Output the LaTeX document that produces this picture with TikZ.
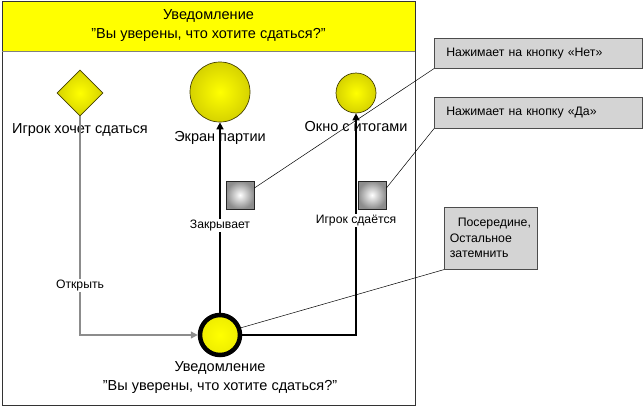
\documentclass[tikz,border=0pt]{standalone}
\usepackage{fontspec}
\setmainfont{Liberation Sans}
\usetikzlibrary{shapes.geometric,arrows.meta}
\definecolor{ylw}{HTML}{FFFF00}
\definecolor{olive}{HTML}{8A8000}
\definecolor{notegray}{HTML}{D4D4D4}
\begin{document}
\begin{tikzpicture}[x=1pt,y=-1pt,
  big/.style={font=\fontsize{14.5}{19}\selectfont, align=center},
  small/.style={font=\fontsize{12.2}{14}\selectfont},
  notefont/.style={font=\fontsize{12.3}{15.5}\selectfont},
  ball/.style={circle, draw=olive!50!black, line width=0.7pt, inner color=ylw, outer color=ylw!65!olive, inner sep=0pt},
  gate/.style={diamond, draw=olive!50!black, line width=0.7pt, inner color=ylw, outer color=ylw!65!olive, minimum width=46, minimum height=46, inner sep=0pt},
  sqbox/.style={rectangle, draw=black!85, line width=0.9pt, inner color=white, outer color=gray!90, minimum width=28, minimum height=28, inner sep=0pt},
  note/.style={rectangle, draw=black!70, line width=0.6pt, fill=notegray, notefont, inner sep=0pt, anchor=north west},
  barr/.style={draw=black, line width=1.4pt, -{Triangle[length=7pt,width=7pt]}},
  garr/.style={draw=gray!90, line width=1.4pt, -{Triangle[length=7pt,width=7pt]}},
  lead/.style={draw=black, line width=0.5pt},
  lblbg/.style={fill=white, inner sep=1pt, small}
]
\useasboundingbox (0,0) rectangle (643,407);
% frame and header
\node (frame) [draw=black!80, line width=0.8pt, minimum width=413, minimum height=404, inner sep=0pt] at (208.5,203) {};
\node (header) [draw=black!80, line width=0.8pt, fill=ylw, minimum width=413, minimum height=50, inner sep=0pt, big] at (208.5,26) {Уведомление\\"Вы уверены, что хотите сдаться?"};
\draw[gray, line width=1.5pt] (header.south west) -- (header.south east);
% nodes
\node (want) [gate] at (80,93) {};
\node (wantl) [big, anchor=north] at (80,120) {Игрок хочет сдаться};
\node (screen) [ball, minimum size=60] at (220,92) {};
\node (screenl) [big, anchor=north] at (220,128) {Экран партии};
\node (results) [ball, minimum size=40] at (356,93) {};
\node (resultsl) [big, anchor=north] at (356,118) {Окно с итогами};
\node (notif) [circle, draw=black, line width=4.5pt, inner color=ylw, outer color=ylw!85!olive, minimum size=40, inner sep=0pt] at (220,335) {};
\node (notifl) [big, anchor=north] at (220,358) {Уведомление\\"Вы уверены, что хотите сдаться?"};
\node (sq1) [sqbox] at (240,195) {};
\node (sq2) [sqbox] at (372,195) {};
% notes
\node (note1) [note, minimum width=208, minimum height=30, text width=200, align=left] at (434,38) {\hspace*{8pt}Нажимает на кнопку «Нет»};
\node (note2) [note, minimum width=208, minimum height=31, text width=200, align=left] at (434,97) {\hspace*{8pt}Нажимает на кнопку «Да»};
\node (note3) [note, minimum width=93, minimum height=62, text width=90, align=left] at (444,207) {\hspace*{12pt}Посередине,\\\hspace*{4pt}Остальное\\\hspace*{4pt}затемнить};
% connectors
\draw[garr] (want.south) |- (notif.west) node[pos=0.386, lblbg] {Открыть};
\draw[barr] (notif.north) -- (screen.south) node[pos=0.458, lblbg] {Закрывает};
\draw[barr] (notif.east) -| (results.south) node[pos=0.759, lblbg] {Игрок сдаётся};
% leader lines
\draw[lead] (note1.south west) -- (sq1.26);
\draw[lead] (note2.south west) -- (sq2.26);
\draw[lead] (note3.south west) -- (notif.19);
\end{tikzpicture}
\end{document}
